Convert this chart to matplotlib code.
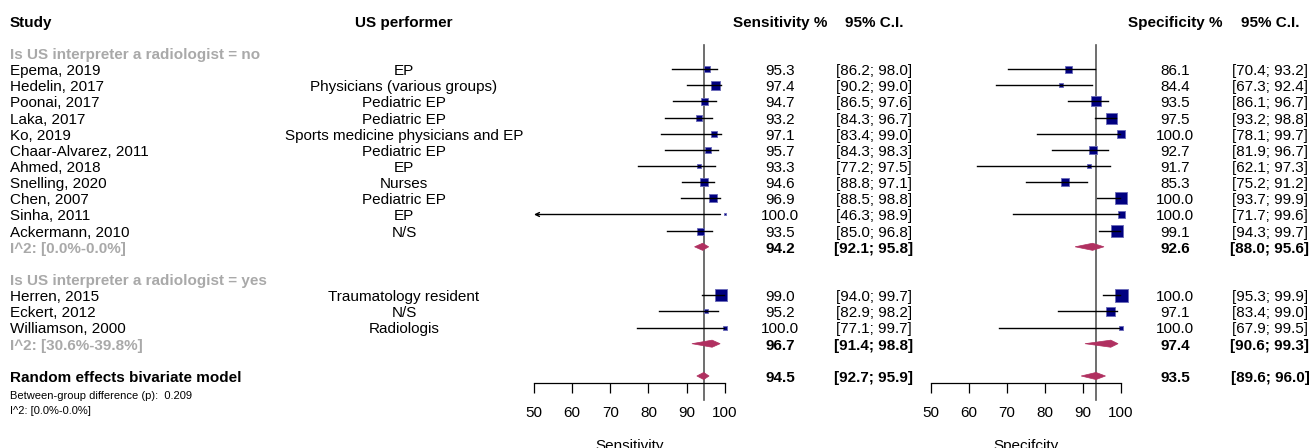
import numpy as np
import matplotlib
matplotlib.use("Agg")
import matplotlib.pyplot as plt
from matplotlib.patches import Polygon

plt.rcParams['font.family'] = ['Liberation Sans', 'DejaVu Sans']

# ---- data ----
studies_no = ["Epema, 2019", "Hedelin, 2017", "Poonai, 2017", "Laka, 2017", "Ko, 2019",
              "Chaar-Alvarez, 2011", "Ahmed, 2018", "Snelling, 2020", "Chen, 2007",
              "Sinha, 2011", "Ackermann, 2010"]
studies_yes = ["Herren, 2015", "Eckert, 2012", "Williamson, 2000"]

performer_no = ["EP", "Physicians (various groups)", "Pediatric EP", "Pediatric EP",
                "Sports medicine physicians and EP", "Pediatric EP", "EP", "Nurses",
                "Pediatric EP", "EP", "N/S"]
performer_yes = ["Traumatology resident", "N/S", "Radiologis"]

sens_est = [95.3, 97.4, 94.7, 93.2, 97.1, 95.7, 93.3, 94.6, 96.9, 100.0, 93.5, 99.0, 95.2, 100.0]
sens_lo = [86.2, 90.2, 86.5, 84.3, 83.4, 84.3, 77.2, 88.8, 88.5, 46.3, 85.0, 94.0, 82.9, 77.1]
sens_hi = [98.0, 99.0, 97.6, 96.7, 99.0, 98.3, 97.5, 97.1, 98.8, 98.9, 96.8, 99.7, 98.2, 99.7]
sens_weight = [6, 9, 7, 6, 6, 6, 4, 8, 8, 2, 7, 12, 5, 5]

spec_est = [86.1, 84.4, 93.5, 97.5, 100.0, 92.7, 91.7, 85.3, 100.0, 100.0, 99.1, 100.0, 97.1, 100.0]
spec_lo = [70.4, 67.3, 86.1, 93.2, 78.1, 81.9, 62.1, 75.2, 93.7, 71.7, 94.3, 95.3, 83.4, 67.9]
spec_hi = [93.2, 92.4, 96.7, 98.8, 99.7, 96.7, 97.3, 91.2, 99.9, 99.6, 99.7, 99.9, 99.0, 99.5]
spec_weight = [7, 5, 10, 11, 8, 8, 5, 8, 12, 7, 12, 13, 9, 5]

# pooled: subgroup no, subgroup yes, overall
sens_pool = [(94.2, 92.1, 95.8), (96.7, 91.4, 98.8), (94.5, 92.7, 95.9)]
spec_pool = [(92.6, 88.0, 95.6), (97.4, 90.6, 99.3), (93.5, 89.6, 96.0)]

i2_no = "I^2: [0.0%-0.0%]"
i2_yes = "I^2: [30.6%-39.8%]"
p_between = "0.209"
i2_overall = "I^2: [0.0%-0.0%]"

# ---- layout (rows) ----
study_rows = list(range(1, 12)) + [15, 16, 17]
pool_rows = [12, 18, 20]
W, H = 1311, 448
row0_px, row_h = 53.0, 16.15


def row_of(px):
    return (px - row0_px) / row_h


NAVY = '#000080'
MAROON = '#B03060'
GRAY = '#a9a9a9'
FS = 11
TY = 0.12  # small downward nudge so text sits on the row like the original

fig = plt.figure(figsize=(W / 100, H / 100), dpi=100)

# table axes: x in pixels, y in rows
tab = fig.add_axes([0, 0, 1, 1])
tab.set_xlim(0, W)
tab.set_ylim(row_of(H), row_of(0))
tab.axis('off')


def put(x, r, s, **kw):
    kw.setdefault('fontsize', FS)
    kw.setdefault('va', 'center')
    tab.text(x, r + TY, s, **kw)


x_study, x_perf = 10, 404
x_sens, x_sens_ci = 780, 874
x_spec, x_spec_ci = 1175, 1270

hdr = row_of(21)
put(x_study, hdr, "Study", fontweight='bold')
put(x_perf, hdr, "US performer", fontweight='bold', ha='center')
put(x_sens, hdr, "Sensitivity %", fontweight='bold', ha='center')
put(x_sens_ci, hdr, "95% C.I.", fontweight='bold', ha='center')
put(x_spec, hdr, "Specificity %", fontweight='bold', ha='center')
put(x_spec_ci, hdr, "95% C.I.", fontweight='bold', ha='center')

put(x_study, 0, "Is US interpreter a radiologist = no", fontweight='bold', color=GRAY)
put(x_study, 14, "Is US interpreter a radiologist = yes", fontweight='bold', color=GRAY)

for r, name, perf in zip(study_rows, studies_no + studies_yes, performer_no + performer_yes):
    put(x_study, r, name)
    put(x_perf, r, perf, ha='center')

for i, r in enumerate(study_rows):
    put(x_sens, r, f"{sens_est[i]:.1f}", ha='center')
    put(x_sens_ci, r, f"[{sens_lo[i]:.1f}; {sens_hi[i]:.1f}]", ha='center')
    put(x_spec, r, f"{spec_est[i]:.1f}", ha='center')
    put(x_spec_ci, r, f"[{spec_lo[i]:.1f}; {spec_hi[i]:.1f}]", ha='center')

for r, sp, cp in zip(pool_rows, sens_pool, spec_pool):
    put(x_sens, r, f"{sp[0]:.1f}", fontweight='bold', ha='center')
    put(x_sens_ci, r, f"[{sp[1]:.1f}; {sp[2]:.1f}]", fontweight='bold', ha='center')
    put(x_spec, r, f"{cp[0]:.1f}", fontweight='bold', ha='center')
    put(x_spec_ci, r, f"[{cp[1]:.1f}; {cp[2]:.1f}]", fontweight='bold', ha='center')

put(x_study, 12, i2_no, fontweight='bold', color=GRAY)
put(x_study, 18, i2_yes, fontweight='bold', color=GRAY)
put(x_study, 20, "Random effects bivariate model", fontweight='bold')
put(x_study, row_of(394), "Between-group difference (p):  " + p_between, fontsize=8)
put(x_study, row_of(409), i2_overall, fontsize=8)


def forest(left_px, right_px, est, lo, hi, weight, pool, ref, label):
    top_px, bot_px = 45, 383
    ax = fig.add_axes([left_px / W, (H - bot_px) / H, (right_px - left_px) / W, (bot_px - top_px) / H])
    ax.set_xlim(50, 100)
    ax.set_ylim(row_of(bot_px), row_of(top_px))
    for s in ['top', 'left', 'right']:
        ax.spines[s].set_visible(False)
    ax.set_yticks([])
    ax.set_xticks([50, 60, 70, 80, 90, 100])
    ax.tick_params(axis='x', direction='out', length=7.2, width=0.9, pad=9, labelsize=FS)
    ax.spines['bottom'].set_linewidth(0.9)
    ax.set_xlabel(label, fontsize=FS, labelpad=14)
    ax.patch.set_visible(False)

    # reference line at overall estimate
    ax.plot([ref, ref], [row_of(top_px), row_of(400)], color='#555555', lw=1.2,
            clip_on=False, zorder=1)

    for i, r in enumerate(study_rows):
        side = weight[i] * 0.72
        ax.scatter([est[i]], [r], marker='s', s=side ** 2, color=NAVY,
                   edgecolor='#6a6ab8', linewidths=0.6, zorder=3, clip_on=False)
        if lo[i] < 50:
            ax.annotate("", xy=(50, r), xytext=(hi[i], r),
                        arrowprops=dict(arrowstyle='->', color='black', lw=1,
                                        mutation_scale=7, shrinkA=0, shrinkB=0),
                        zorder=4, annotation_clip=False)
        else:
            ax.plot([lo[i], hi[i]], [r, r], color='black', lw=1, zorder=4, clip_on=False)

    for r, (e, l, h) in zip(pool_rows, pool):
        dh = 0.22
        ax.add_patch(Polygon([(l, r), (e, r - dh), (h, r), (e, r + dh)], closed=True,
                             facecolor=MAROON, edgecolor=MAROON, lw=0.5, zorder=3, clip_on=False))
    return ax


forest(534, 724.7, sens_est, sens_lo, sens_hi, sens_weight, sens_pool, sens_pool[2][0], "Sensitivity")
forest(930.7, 1120.7, spec_est, spec_lo, spec_hi, spec_weight, spec_pool, spec_pool[2][0], "Specifcity")

fig.savefig("out.png", dpi=100)
